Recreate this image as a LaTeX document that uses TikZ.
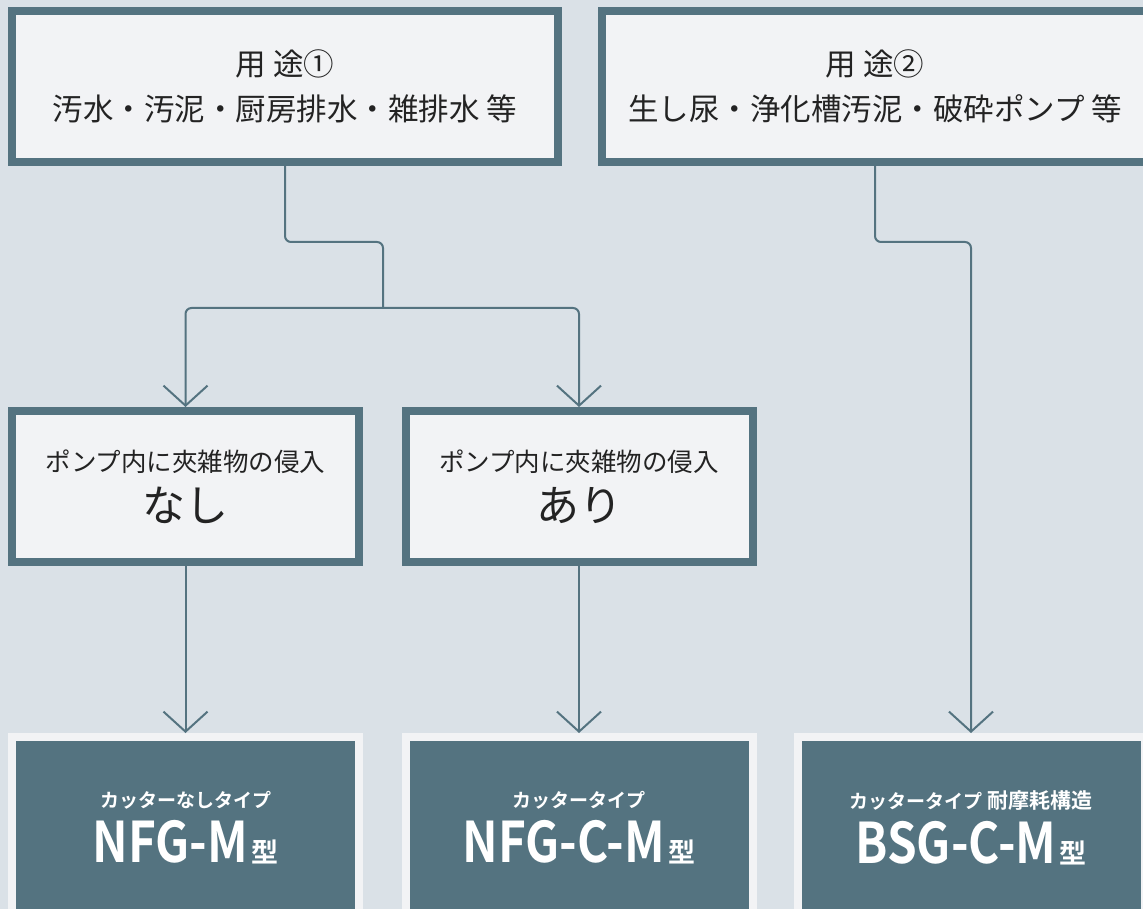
\documentclass[tikz,border=0pt]{standalone}
\usepackage{fontspec}
\usepackage{graphicx}
\setmainfont{Noto Sans CJK JP}[BoldFont={Noto Sans CJK JP Bold}]
\usetikzlibrary{arrows.meta}
\usetikzlibrary{positioning}

\definecolor{bgblue}{RGB}{218,225,231}
\definecolor{boxfill}{RGB}{242,243,245}
\definecolor{slate}{RGB}{84,115,128}
\definecolor{ink}{RGB}{35,35,35}

% model name: condensed bold + small 型
\newcommand{\model}[1]{{\fontsize{56}{55}\selectfont\scalebox{0.85}[1]{#1}}\hspace{3pt}{\fontsize{27}{55}\selectfont 型}}

\begin{document}
\begin{tikzpicture}[x=1pt, y=-1pt, on grid, >={Straight Barb[length=20pt,width=44pt]},
    usage/.style={draw=slate, fill=boxfill, line width=8pt, minimum width=546pt, minimum height=151pt,
      align=center, text=ink, font=\fontsize{30.5}{45}\selectfont},
    check/.style={draw=slate, fill=boxfill, line width=8pt, minimum width=347pt, minimum height=151pt,
      align=center, text=ink, font=\fontsize{25.5}{50}\selectfont},
    pump/.style={draw=boxfill, fill=slate, line width=8pt, minimum width=347pt, minimum height=182pt,
      align=center, text=white, font=\bfseries\fontsize{19}{55}\selectfont},
    flow/.style={draw=slate, line width=2pt, rounded corners=6pt}]
  \useasboundingbox (0,0) rectangle (1143,909);
  \fill[bgblue] (0,0) rectangle (1143,909);

  \node[usage] (use_1) at (285,86.5) {用 途①\\汚水・汚泥・厨房排水・雑排水 等};
  \node[usage] (use_2) at (875,86.5) {用 途②\\生し尿・浄化槽汚泥・破砕ポンプ 等};

  \node[check] (none)  at (185.5,486.5)       {ポンプ内に夾雑物の侵入\\{\fontsize{43}{50}\selectfont なし}};
  \node[check] (some)  [right=393.5pt of none] {ポンプ内に夾雑物の侵入\\{\fontsize{43}{50}\selectfont あり}};

  \node[pump]  (nfg_m)  [below=341.5pt of none]  {カッターなしタイプ\\\model{NFG-M}};
  \node[pump]  (nfg_cm) [right=393.5pt of nfg_m] {カッタータイプ\\\model{NFG-C-M}};
  \node[pump]  (bsg_cm) [right=392pt of nfg_cm]  {カッタータイプ {\fontsize{21}{55}\selectfont 耐摩耗構造}\\\model{BSG-C-M}};

  \coordinate (split) at (383,308);
  \draw[flow]     (use_1.south) -- ++(0,76) -| (split);
  \draw[flow, ->] (split) -| (none.north);
  \draw[flow, ->] (split) -| (some.north);
  \draw[flow, ->] (none.south) -- (nfg_m.north);
  \draw[flow, ->] (some.south) -- (nfg_cm.north);
  \draw[flow, ->] (use_2.south) -- ++(0,76) -| (bsg_cm.north);
\end{tikzpicture}
\end{document}
